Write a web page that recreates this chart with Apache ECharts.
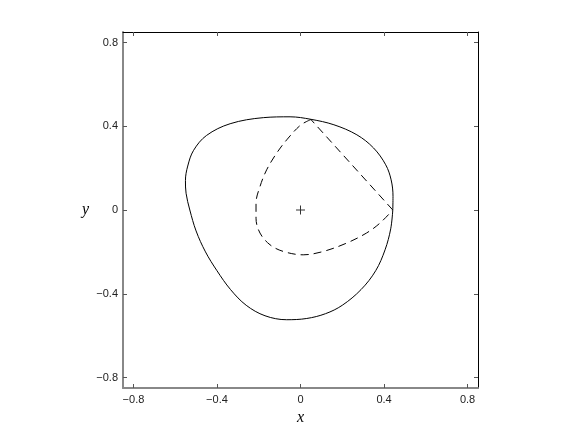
<!DOCTYPE html>
<html>
<head>
<meta charset="utf-8">
<script src="https://cdn.jsdelivr.net/npm/echarts@6/dist/echarts.min.js"></script>
<style>
  html, body { margin: 0; padding: 0; background: #fff; }
  #chart { width: 581px; height: 437px; }
</style>
</head>
<body>
<div id="chart"></div>
<script>
  // outer closed curve (solid)
  var outerX = [0.442, 0.443, 0.434, 0.408, 0.35, 0.27, 0.16, 0.05, -0.05, -0.178, -0.337, -0.45, -0.512, -0.54,
    -0.551, -0.548, -0.53, -0.5, -0.455, -0.4, -0.335, -0.26, -0.17, -0.066, 0.03, 0.12, 0.2, 0.29, 0.36, 0.405, 0.432, 0.442]
  var outerY = [0.0, 0.065, 0.144, 0.216, 0.296, 0.359, 0.407, 0.433, 0.445, 0.441, 0.412, 0.356, 0.285, 0.21,
    0.14, 0.08, 0.0, -0.1, -0.2, -0.29, -0.38, -0.455, -0.505, -0.524, -0.518, -0.495, -0.455, -0.38, -0.29, -0.19, -0.09, 0.0]

  // inner curve (dashed), from top cusp round to right cusp
  var innerX = [0.05, 0.0, -0.066, -0.114, -0.162, -0.194, -0.213, -0.213, -0.194, -0.146, -0.082, 0.013, 0.109,
    0.221, 0.316, 0.38, 0.442]
  var innerY = [0.432, 0.405, 0.335, 0.272, 0.192, 0.112, 0.033, -0.039, -0.11, -0.166, -0.198, -0.214, -0.198,
    -0.158, -0.11, -0.063, 0.0]

  // straight dashed chord between the two cusps
  var chordX = [0.442, 0.05]
  var chordY = [0.0, 0.432]

  var centre = [0, 0]
  var ticks = [-0.8, -0.4, 0, 0.4, 0.8]

  function pairs(xs, ys) {
    return xs.map(function (x, i) { return [x, ys[i]] })
  }

  function fmt(v) {
    v = Math.round(v * 10) / 10
    return v < 0 ? '\u2212' + Math.abs(v) : String(v)
  }

  var labelFont = { color: '#222', fontSize: 11, fontFamily: 'Liberation Sans, Arial, sans-serif' }
  var nameFont = { color: '#000', fontSize: 16, fontStyle: 'italic', fontFamily: 'Liberation Serif, DejaVu Serif, serif' }

  function mainAxis(extra) {
    return Object.assign({
      type: 'value',
      min: -0.85,
      max: 0.85,
      splitLine: { show: false },
      axisLine: { onZero: false, lineStyle: { color: '#888', width: 2 } },
      axisTick: { inside: true, length: 4, customValues: ticks, lineStyle: { color: '#555' } },
      axisLabel: Object.assign({ customValues: ticks, formatter: fmt }, labelFont)
    }, extra)
  }

  function mirrorAxis(extra) {
    return Object.assign({
      type: 'value',
      min: -0.85,
      max: 0.85,
      splitLine: { show: false },
      axisLine: { onZero: false, lineStyle: { color: '#000', width: 1 } },
      axisTick: { inside: true, length: 4, customValues: ticks, lineStyle: { color: '#555' } },
      axisLabel: { show: false }
    }, extra)
  }

  var chart = echarts.init(document.getElementById('chart'))
  chart.setOption({
    animation: false,
    grid: { left: 123, top: 32, width: 355, height: 356, containLabel: false },
    xAxis: [
      mainAxis({
        position: 'bottom', name: 'x', nameLocation: 'middle', nameGap: 16, nameTextStyle: nameFont,
        axisLabel: Object.assign({ customValues: ticks, formatter: fmt, margin: 6 }, labelFont)
      }),
      mirrorAxis({ position: 'top' })
    ],
    yAxis: [
      mainAxis({
        position: 'left', name: 'y', nameLocation: 'middle', nameGap: 34, nameRotate: 0,
        nameTextStyle: Object.assign({ padding: [0, 0, 12, 0] }, nameFont),
        axisLabel: Object.assign({ customValues: ticks, formatter: fmt, margin: 5 }, labelFont)
      }),
      mirrorAxis({ position: 'right' })
    ],
    series: [
      {
        type: 'line',
        data: pairs(outerX, outerY),
        smooth: 0.35,
        symbol: 'none',
        lineStyle: { color: '#000', width: 1 }
      },
      {
        type: 'line',
        data: pairs(innerX, innerY),
        smooth: 0.35,
        symbol: 'none',
        lineStyle: { color: '#000', width: 1, type: [8, 5] }
      },
      {
        type: 'line',
        data: pairs(chordX, chordY),
        symbol: 'none',
        lineStyle: { color: '#000', width: 1, type: [8, 5] }
      },
      {
        type: 'scatter',
        data: [centre],
        symbol: 'path://M4,0h1v9h-1zM0,4h9v1h-9z',
        symbolSize: 9,
        itemStyle: { color: '#000' }
      }
    ]
  })
</script>
</body>
</html>
